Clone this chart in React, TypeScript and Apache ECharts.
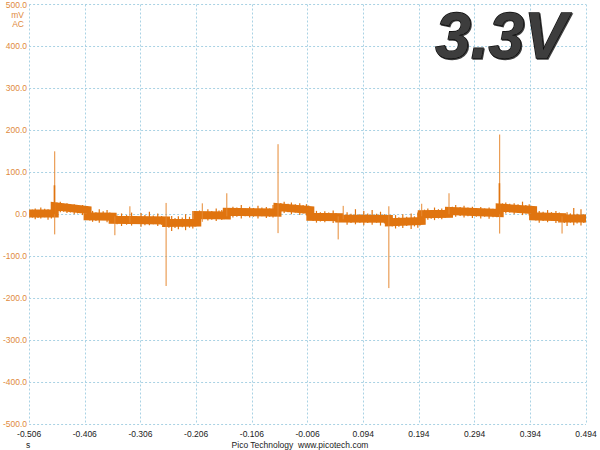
import React, { useEffect, useRef } from "react";
import * as echarts from "echarts";

// time origin of the screen (seconds); axis runs from T0 to T0 + 1.0 s
const T0 = -0.506;
const T_SPAN = 1.0;
const X_STEP = 0.1;
const Y_MIN = -500;
const Y_MAX = 500;
const Y_STEP = 100;

// baseline band (mV), step changes at switching events
const bandTimes = [
  -0.506, -0.46, -0.46, -0.401, -0.401, -0.356, -0.356, -0.26, -0.26, -0.204,
  -0.204, -0.151, -0.151, -0.06, -0.06, -0.001, -0.001, 0.051, 0.051, 0.14,
  0.14, 0.199, 0.199, 0.248, 0.248, 0.339, 0.339, 0.399, 0.399, 0.451, 0.451, 0.494,
];
const bandValues = [
  2, 2, 19, 10, -5, -6, -13, -15, -21, -20,
  -2, -3, 6, 4, 17, 10, -6, -7, -10, -11,
  -19, -16, 0, 1, 8, 3, 16, 10, -5, -7, -10, -10,
];

// large switching spikes
const spikeTimes = [-0.46, -0.26, -0.059, 0.14, 0.339];
const spikeLows = [-48, -171, -45, -176, -46];
const spikeHighs = [150, 27, 167, 19, 190];

// thicker bases of the positive spikes
const spikeBaseTimes = [-0.4605, 0.3385];
const spikeBaseLows = [0, 0];
const spikeBaseHighs = [69, 74];

// smaller glitches
const glitchTimes = [-0.352, -0.325, -0.195, -0.151, 0.049, 0.058, 0.199, 0.248, 0.451];
const glitchLows = [-50, -20, -18, -5, -60, -12, -5, 0, -46];
const glitchHighs = [-5, 19, 26, 50, -5, 20, 25, 50, -5];

// noise fringe around the band
const noiseTimes = [
  -0.5, -0.495, -0.49, -0.485, -0.478, -0.472, -0.466,
  -0.456, -0.45, -0.444, -0.438, -0.432, -0.425, -0.419, -0.41, -0.406,
  -0.397, -0.392, -0.386, -0.38, -0.373, -0.366, -0.361,
  -0.348, -0.34, -0.331, -0.322, -0.314, -0.305, -0.298, -0.29, -0.283, -0.275, -0.268,
  -0.255, -0.25, -0.244, -0.238, -0.231, -0.225, -0.218, -0.212, -0.208,
  -0.2, -0.185, -0.178, -0.17, -0.165, -0.16, -0.156,
  -0.146, -0.14, -0.133, -0.125, -0.118, -0.11, -0.103, -0.095, -0.088, -0.08, -0.074, -0.068, -0.064,
  -0.054, -0.048, -0.041, -0.035, -0.028, -0.02, -0.014, -0.008, -0.004,
  0.004, 0.01, 0.017, 0.025, 0.032, 0.04, 0.045,
  0.065, 0.072, 0.08, 0.088, 0.095, 0.102, 0.11, 0.118, 0.125, 0.132,
  0.146, 0.152, 0.158, 0.165, 0.172, 0.18, 0.186, 0.192, 0.196,
  0.204, 0.21, 0.216, 0.222, 0.229, 0.235, 0.241,
  0.254, 0.26, 0.268, 0.275, 0.282, 0.29, 0.297, 0.305, 0.312, 0.32, 0.327, 0.334,
  0.344, 0.35, 0.357, 0.365, 0.372, 0.38, 0.386, 0.392, 0.396,
  0.404, 0.41, 0.417, 0.425, 0.432, 0.44, 0.446,
  0.455, 0.46, 0.466, 0.472, 0.478, 0.485, 0.49,
];
const noiseLows = [
  -8, -12, -9, -10, -7, -13, -10,
  8, 5, 6, 3, 4, 0, 2, -2, 0,
  -15, -18, -16, -20, -14, -19, -17,
  -24, -28, -25, -27, -23, -30, -26, -26, -24, -28, -25,
  -32, -40, -33, -36, -31, -38, -32, -34, -30,
  -12, -15, -13, -16, -11, -14, -12,
  -5, -8, -6, -10, -5, -8, -6, -10, -5, -9, -6, -8, -5,
  7, 3, 5, 0, 4, -2, 2, -3, 1,
  -16, -20, -17, -19, -16, -21, -17,
  -25, -21, -24, -20, -26, -21, -25, -20, -27, -22,
  -29, -34, -30, -33, -28, -35, -29, -32, -27,
  -10, -13, -11, -14, -10, -12, -9,
  -3, -6, -4, -8, -5, -9, -6, -10, -6, -11, -7, -7,
  5, 2, 4, 0, 3, -2, 2, -3, 1,
  -15, -20, -16, -19, -15, -21, -16,
  -21, -28, -20, -26, -22, -27, -21,
];
const noiseHighs = [
  11, 14, 10, 16, 13, 12, 9,
  28, 30, 25, 26, 23, 24, 21, 22, 19,
  6, 8, 5, 12, 7, 10, 4,
  -3, 2, -2, 4, -4, 3, -2, 6, -3, 2, -4,
  -10, -4, -9, -5, -8, 0, -6, 8, -4,
  9, 12, 8, 14, 9, 10, 8,
  15, 18, 16, 22, 14, 18, 15, 20, 16, 17, 14, 22, 15,
  27, 30, 25, 28, 24, 26, 22, 24, 21,
  4, 8, 5, 7, 4, 9, 3,
  5, 1, 12, 0, 8, 2, 10, 1, 6, 0,
  -8, -2, -7, 0, -6, 2, -5, 4, -5,
  11, 14, 10, 16, 12, 14, 11,
  18, 22, 17, 20, 16, 18, 15, 17, 14, 16, 13, 14,
  26, 28, 25, 26, 24, 30, 22, 24, 20,
  5, 8, 6, 10, 5, 8, 4,
  0, 5, 2, 15, 1, 12, 0,
];

const TRACE = "#e0740f";
const TRACE_LIGHT = "#e68a34";
const LABEL_ORANGE = "#e08a3c";
const GRID = "#a9d2e4";
const FONT = "'Liberation Sans', Arial, sans-serif";

const toRanges = (ts: number[], lo: number[], hi: number[]) =>
  ts.map((t, i) => [t - T0, lo[i], hi[i]]);

const vline = (color: string, width: number) => (params: any, api: any) => {
  const t = api.value(0);
  const p1 = api.coord([t, api.value(1)]);
  const p2 = api.coord([t, api.value(2)]);
  return {
    type: "line",
    shape: { x1: p1[0], y1: p1[1], x2: p2[0], y2: p2[1] },
    style: { stroke: color, lineWidth: width },
  };
};

export default function App() {
  const ref = useRef<HTMLDivElement>(null);

  useEffect(() => {
    if (!ref.current) return;
    const chart = echarts.init(ref.current, undefined, { renderer: "svg" });
    const band = bandTimes.map((t, i) => [t - T0, bandValues[i]]);

    chart.setOption({
      animation: false,
      backgroundColor: "#ffffff",
      grid: { left: 26, top: 4, width: 560, height: 420, containLabel: false },
      xAxis: {
        type: "value",
        min: 0,
        max: T_SPAN,
        interval: X_STEP,
        axisLine: { show: false },
        axisTick: { show: false },
        axisLabel: {
          color: "#222",
          fontSize: 8.5,
          fontFamily: FONT,
          margin: 5,
          showMinLabel: true,
          showMaxLabel: true,
          formatter: (v: number) => (v + T0).toFixed(3),
        },
        splitLine: { show: true, lineStyle: { color: GRID, type: [2, 2], width: 1 } },
      },
      yAxis: {
        type: "value",
        min: Y_MIN,
        max: Y_MAX,
        interval: Y_STEP,
        axisLine: { show: false },
        axisTick: { show: false },
        axisLabel: {
          color: LABEL_ORANGE,
          fontSize: 8.5,
          fontFamily: FONT,
          margin: 2,
          formatter: (v: number) => v.toFixed(1),
        },
        splitLine: { show: true, lineStyle: { color: GRID, type: [2, 2], width: 1 } },
      },
      series: [
        {
          type: "custom",
          data: toRanges(noiseTimes, noiseLows, noiseHighs),
          encode: { x: 0, y: [1, 2] },
          renderItem: vline(TRACE, 1.2),
          z: 3,
          silent: true,
        },
        {
          type: "line",
          data: band,
          showSymbol: false,
          lineStyle: { color: TRACE, width: 8, join: "miter", cap: "butt" },
          z: 4,
          silent: true,
        },
        {
          type: "custom",
          data: toRanges(glitchTimes, glitchLows, glitchHighs),
          encode: { x: 0, y: [1, 2] },
          renderItem: vline(TRACE_LIGHT, 1),
          z: 5,
          silent: true,
        },
        {
          type: "custom",
          data: toRanges(spikeTimes, spikeLows, spikeHighs),
          encode: { x: 0, y: [1, 2] },
          renderItem: vline(TRACE_LIGHT, 1),
          z: 5,
          silent: true,
        },
        {
          type: "custom",
          data: toRanges(spikeBaseTimes, spikeBaseLows, spikeBaseHighs),
          encode: { x: 0, y: [1, 2] },
          renderItem: vline(TRACE, 1.6),
          z: 5,
          silent: true,
        },
      ],
      graphic: [
        {
          type: "text",
          x: 24,
          y: 15,
          style: { text: "mV", fill: LABEL_ORANGE, fontSize: 8.5, fontFamily: FONT, align: "right", verticalAlign: "middle" },
        },
        {
          type: "text",
          x: 24,
          y: 24,
          style: { text: "AC", fill: LABEL_ORANGE, fontSize: 8.5, fontFamily: FONT, align: "right", verticalAlign: "middle" },
        },
        {
          type: "text",
          x: 28,
          y: 445,
          style: { text: "s", fill: "#222", fontSize: 8.5, fontFamily: FONT, align: "center", verticalAlign: "middle" },
        },
        {
          type: "text",
          x: 300,
          y: 445,
          style: {
            text: "Pico Technology  www.picotech.com",
            fill: "#222",
            fontSize: 8.5,
            fontFamily: FONT,
            align: "center",
            verticalAlign: "middle",
          },
        },
        {
          type: "text",
          x: 566.8,
          y: 35.8,
          z: 10,
          style: {
            text: "3.3V",
            fontSize: 64,
            fontWeight: "bold",
            fontStyle: "italic",
            fontFamily: FONT,
            align: "right",
            verticalAlign: "middle",
            fill: "#3e3e3e",
            stroke: "#0e0e0e",
            lineWidth: 1.4,
            textShadowColor: "rgba(0,0,0,0.75)",
            textShadowBlur: 1,
            textShadowOffsetX: 1,
            textShadowOffsetY: 1,
          },
        },
      ],
    });

    return () => chart.dispose();
  }, []);

  return (
    <div
      ref={ref}
      style={{ position: "absolute", left: 0, top: 0, width: 600, height: 450, background: "#fff" }}
    />
  );
}
